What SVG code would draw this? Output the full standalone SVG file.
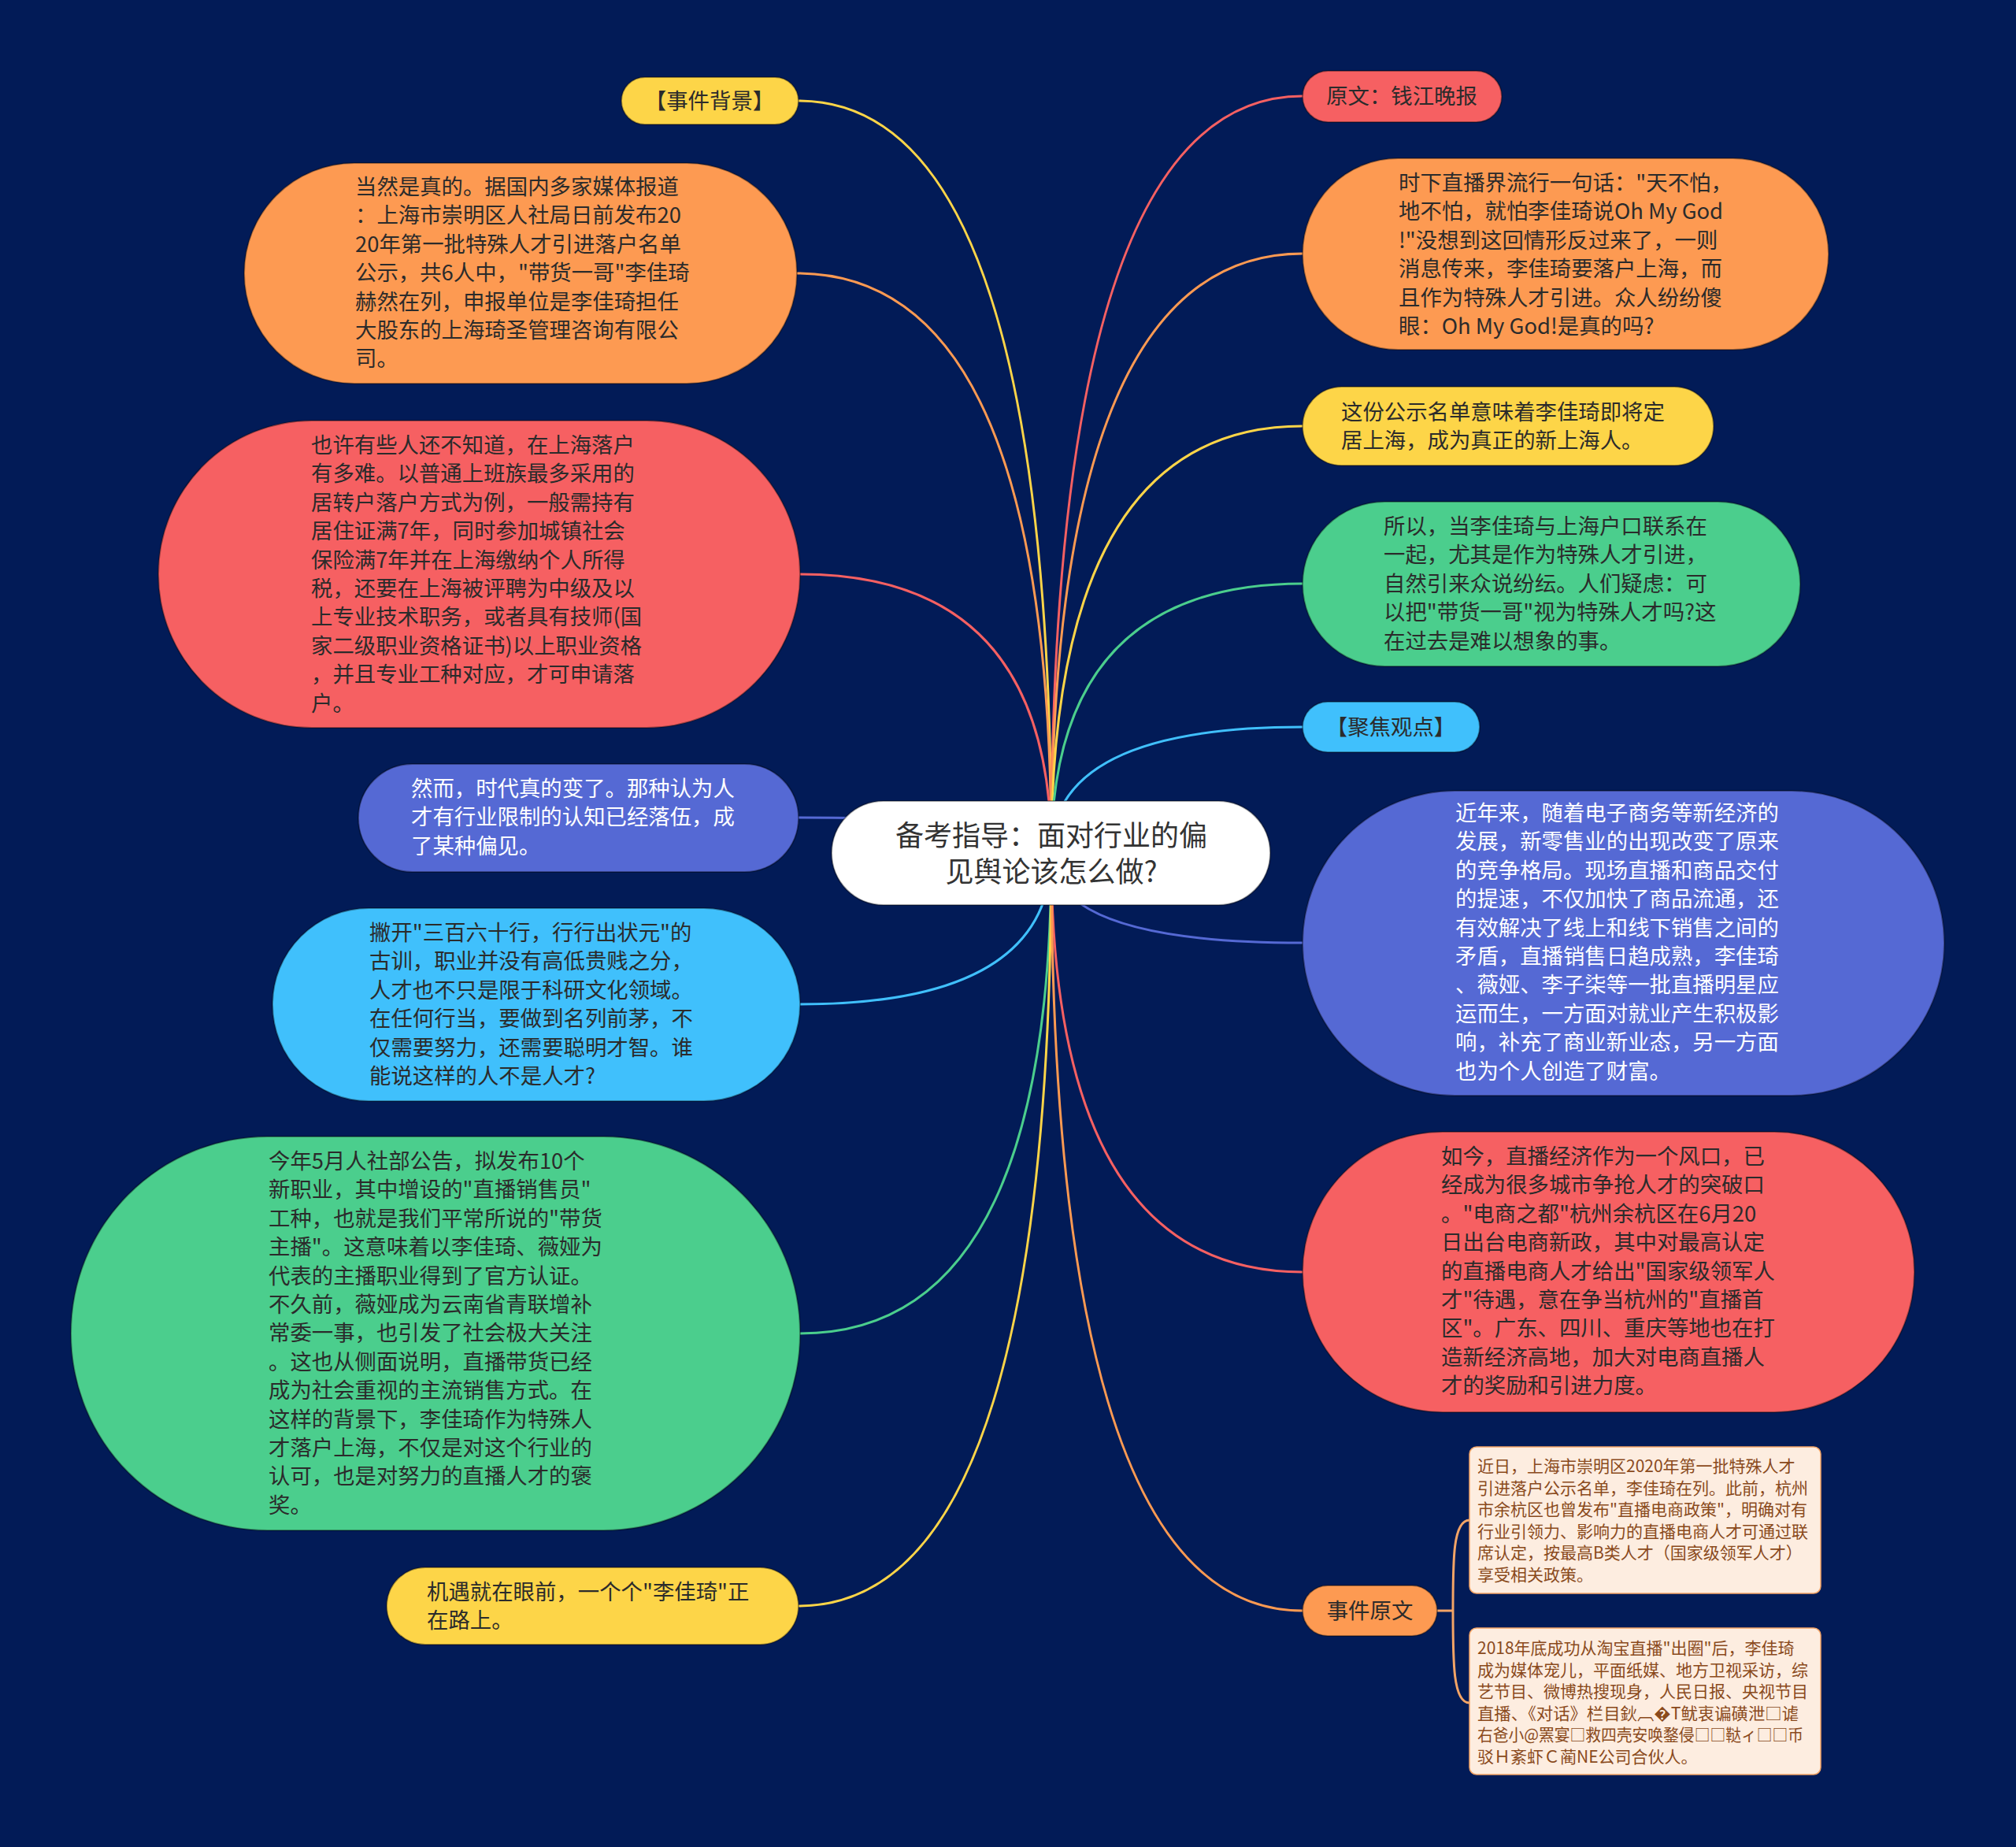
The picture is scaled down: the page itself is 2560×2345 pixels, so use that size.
<svg xmlns="http://www.w3.org/2000/svg" width="2560" height="2345" viewBox="0 0 2560 2345">
<style>
text{font-family:"Noto Sans CJK SC","Noto Sans",sans-serif;}
.t{font-size:27.4px;fill:#2b2b2b;}
.w{font-size:27.4px;fill:#ffffff;}
.s{font-size:21px;fill:#8a4a1c;}
.title{font-size:36px;fill:#333333;}
.node{stroke:rgba(0,0,0,0.35);stroke-width:2;}
.yel{fill:#fdd548;}
.ora{fill:#fd9a52;}
.red{fill:#f66062;}
.pur{fill:#5569d4;}
.cya{fill:#40c0fc;}
.gre{fill:#4bce8d;}
.box{fill:#fdede0;stroke:#f3a466;stroke-width:1.5;}
#connectors path{fill:none;stroke-width:3;}
</style>
<rect width="2560" height="2345" fill="#021b57"/>
<g id="connectors">
<path d="M1335 1083 Q1335 128 1014 128" stroke="#fdd548"/>
<path d="M1335 1083 Q1335 347 1012 347" stroke="#fd9a52"/>
<path d="M1335 1083 Q1335 729 1016 729" stroke="#f66062"/>
<path d="M1335 1083 Q1335 1038 1014 1038" stroke="#5569d4"/>
<path d="M1335 1083 Q1335 1275 1016 1275" stroke="#40c0fc"/>
<path d="M1335 1083 Q1335 1693 1016 1693" stroke="#4bce8d"/>
<path d="M1335 1083 Q1335 2039 1014 2039" stroke="#fdd548"/>
<path d="M1335 1083 Q1335 122 1654 122" stroke="#f66062"/>
<path d="M1335 1083 Q1335 322 1654 322" stroke="#fd9a52"/>
<path d="M1335 1083 Q1335 541 1654 541" stroke="#fdd548"/>
<path d="M1335 1083 Q1335 741 1654 741" stroke="#4bce8d"/>
<path d="M1335 1083 Q1335 923 1654 923" stroke="#40c0fc"/>
<path d="M1335 1083 Q1335 1197 1654 1197" stroke="#5569d4"/>
<path d="M1335 1083 Q1335 1615 1654 1615" stroke="#f66062"/>
<path d="M1335 1083 Q1335 2045 1654 2045" stroke="#fd9a52"/>
<path d="M1825 2045 H1845 M1845 2045 C1845 1980 1845 1930 1866 1930 M1845 2045 C1845 2110 1845 2162 1866 2162" stroke="#f3a466"/>
</g>
<g id="center">
<rect x="1056" y="1017" width="557" height="132" rx="66" fill="#ffffff" class="node"/>
<text class="title" text-anchor="middle"><tspan x="1335" y="1074">备考指导：面对行业的偏</tspan><tspan x="1335" y="1120">见舆论该怎么做?</tspan></text>
</g>
<g id="n-bg">
<rect x="789" y="98" width="225" height="60" rx="30" class="node yel"/>
<text class="t" x="901" y="138" text-anchor="middle">【事件背景】</text>
</g>
<g id="n-l2">
<rect x="310" y="207" width="702" height="280" rx="140" class="node ora"/>
<text class="t"><tspan x="451" y="247">当然是真的。据国内多家媒体报道</tspan><tspan x="451" dy="36.4">：上海市崇明区人社局日前发布20</tspan><tspan x="451" dy="36.4">20年第一批特殊人才引进落户名单</tspan><tspan x="451" dy="36.4">公示，共6人中，"带货一哥"李佳琦</tspan><tspan x="451" dy="36.4">赫然在列，申报单位是李佳琦担任</tspan><tspan x="451" dy="36.4">大股东的上海琦圣管理咨询有限公</tspan><tspan x="451" dy="36.4">司。</tspan></text>
</g>
<g id="n-l3">
<rect x="201" y="534" width="815" height="390" rx="195" class="node red"/>
<text class="t"><tspan x="395" y="575">也许有些人还不知道，在上海落户</tspan><tspan x="395" dy="36.4">有多难。以普通上班族最多采用的</tspan><tspan x="395" dy="36.4">居转户落户方式为例，一般需持有</tspan><tspan x="395" dy="36.4">居住证满7年，同时参加城镇社会</tspan><tspan x="395" dy="36.4">保险满7年并在上海缴纳个人所得</tspan><tspan x="395" dy="36.4">税，还要在上海被评聘为中级及以</tspan><tspan x="395" dy="36.4">上专业技术职务，或者具有技师(国</tspan><tspan x="395" dy="36.4">家二级职业资格证书)以上职业资格</tspan><tspan x="395" dy="36.4">，并且专业工种对应，才可申请落</tspan><tspan x="395" dy="36.4">户。</tspan></text>
</g>
<g id="n-l4">
<rect x="455" y="970" width="559" height="137" rx="68.5" class="node pur"/>
<text class="w"><tspan x="522" y="1011">然而，时代真的变了。那种认为人</tspan><tspan x="522" dy="36.4">才有行业限制的认知已经落伍，成</tspan><tspan x="522" dy="36.4">了某种偏见。</tspan></text>
</g>
<g id="n-l5">
<rect x="346" y="1153" width="670" height="245" rx="122.5" class="node cya"/>
<text class="t"><tspan x="469" y="1194">撇开"三百六十行，行行出状元"的</tspan><tspan x="469" dy="36.4">古训，职业并没有高低贵贱之分，</tspan><tspan x="469" dy="36.4">人才也不只是限于科研文化领域。</tspan><tspan x="469" dy="36.4">在任何行当，要做到名列前茅，不</tspan><tspan x="469" dy="36.4">仅需要努力，还需要聪明才智。谁</tspan><tspan x="469" dy="36.4">能说这样的人不是人才?</tspan></text>
</g>
<g id="n-l6">
<rect x="90" y="1443" width="926" height="500" rx="250" class="node gre"/>
<text class="t"><tspan x="341" y="1484">今年5月人社部公告，拟发布10个</tspan><tspan x="341" dy="36.4">新职业，其中增设的"直播销售员"</tspan><tspan x="341" dy="36.4">工种，也就是我们平常所说的"带货</tspan><tspan x="341" dy="36.4">主播"。这意味着以李佳琦、薇娅为</tspan><tspan x="341" dy="36.4">代表的主播职业得到了官方认证。</tspan><tspan x="341" dy="36.4">不久前，薇娅成为云南省青联增补</tspan><tspan x="341" dy="36.4">常委一事，也引发了社会极大关注</tspan><tspan x="341" dy="36.4">。这也从侧面说明，直播带货已经</tspan><tspan x="341" dy="36.4">成为社会重视的主流销售方式。在</tspan><tspan x="341" dy="36.4">这样的背景下，李佳琦作为特殊人</tspan><tspan x="341" dy="36.4">才落户上海，不仅是对这个行业的</tspan><tspan x="341" dy="36.4">认可，也是对努力的直播人才的褒</tspan><tspan x="341" dy="36.4">奖。</tspan></text>
</g>
<g id="n-l7">
<rect x="491" y="1990" width="523" height="98" rx="49" class="node yel"/>
<text class="t"><tspan x="542" y="2031">机遇就在眼前，一个个"李佳琦"正</tspan><tspan x="542" dy="36.4">在路上。</tspan></text>
</g>
<g id="n-r1">
<rect x="1654" y="90" width="253" height="65" rx="32.5" class="node red"/>
<text class="t" x="1780" y="132" text-anchor="middle">原文：钱江晚报</text>
</g>
<g id="n-r2">
<rect x="1654" y="201" width="668" height="243" rx="121.5" class="node ora"/>
<text class="t"><tspan x="1776" y="242">时下直播界流行一句话："天不怕，</tspan><tspan x="1776" dy="36.4">地不怕，就怕李佳琦说Oh My God</tspan><tspan x="1776" dy="36.4">!"没想到这回情形反过来了，一则</tspan><tspan x="1776" dy="36.4">消息传来，李佳琦要落户上海，而</tspan><tspan x="1776" dy="36.4">且作为特殊人才引进。众人纷纷傻</tspan><tspan x="1776" dy="36.4">眼：Oh My God!是真的吗?</tspan></text>
</g>
<g id="n-r3">
<rect x="1654" y="491" width="522" height="100" rx="50" class="node yel"/>
<text class="t"><tspan x="1703" y="533">这份公示名单意味着李佳琦即将定</tspan><tspan x="1703" dy="36.4">居上海，成为真正的新上海人。</tspan></text>
</g>
<g id="n-r4">
<rect x="1654" y="637" width="632" height="209" rx="104.5" class="node gre"/>
<text class="t"><tspan x="1757" y="678">所以，当李佳琦与上海户口联系在</tspan><tspan x="1757" dy="36.4">一起，尤其是作为特殊人才引进，</tspan><tspan x="1757" dy="36.4">自然引来众说纷纭。人们疑虑：可</tspan><tspan x="1757" dy="36.4">以把"带货一哥"视为特殊人才吗?这</tspan><tspan x="1757" dy="36.4">在过去是难以想象的事。</tspan></text>
</g>
<g id="n-r5">
<rect x="1654" y="891" width="225" height="64" rx="32" class="node cya"/>
<text class="t" x="1766" y="933" text-anchor="middle">【聚焦观点】</text>
</g>
<g id="n-r6">
<rect x="1654" y="1004" width="815" height="387" rx="193.5" class="node pur"/>
<text class="w"><tspan x="1848" y="1042">近年来，随着电子商务等新经济的</tspan><tspan x="1848" dy="36.4">发展，新零售业的出现改变了原来</tspan><tspan x="1848" dy="36.4">的竞争格局。现场直播和商品交付</tspan><tspan x="1848" dy="36.4">的提速，不仅加快了商品流通，还</tspan><tspan x="1848" dy="36.4">有效解决了线上和线下销售之间的</tspan><tspan x="1848" dy="36.4">矛盾，直播销售日趋成熟，李佳琦</tspan><tspan x="1848" dy="36.4">、薇娅、李子柒等一批直播明星应</tspan><tspan x="1848" dy="36.4">运而生，一方面对就业产生积极影</tspan><tspan x="1848" dy="36.4">响，补充了商业新业态，另一方面</tspan><tspan x="1848" dy="36.4">也为个人创造了财富。</tspan></text>
</g>
<g id="n-r7">
<rect x="1654" y="1437" width="777" height="356" rx="178" class="node red"/>
<text class="t"><tspan x="1830" y="1478">如今，直播经济作为一个风口，已</tspan><tspan x="1830" dy="36.4">经成为很多城市争抢人才的突破口</tspan><tspan x="1830" dy="36.4">。"电商之都"杭州余杭区在6月20</tspan><tspan x="1830" dy="36.4">日出台电商新政，其中对最高认定</tspan><tspan x="1830" dy="36.4">的直播电商人才给出"国家级领军人</tspan><tspan x="1830" dy="36.4">才"待遇，意在争当杭州的"直播首</tspan><tspan x="1830" dy="36.4">区"。广东、四川、重庆等地也在打</tspan><tspan x="1830" dy="36.4">造新经济高地，加大对电商直播人</tspan><tspan x="1830" dy="36.4">才的奖励和引进力度。</tspan></text>
</g>
<g id="n-r8">
<rect x="1654" y="2013" width="171" height="64" rx="32" class="node ora"/>
<text class="t" x="1739.5" y="2055" text-anchor="middle">事件原文</text>
</g>
<g id="n-r8a">
<rect x="1866" y="1837" width="446" height="186" rx="9" class="box"/>
<text class="s"><tspan x="1876" y="1869">近日，上海市崇明区2020年第一批特殊人才</tspan><tspan x="1876" dy="27.6">引进落户公示名单，李佳琦在列。此前，杭州</tspan><tspan x="1876" dy="27.6">市余杭区也曾发布"直播电商政策"，明确对有</tspan><tspan x="1876" dy="27.6">行业引领力、影响力的直播电商人才可通过联</tspan><tspan x="1876" dy="27.6">席认定，按最高B类人才（国家级领军人才）</tspan><tspan x="1876" dy="27.6">享受相关政策。</tspan></text>
</g>
<g id="n-r8b">
<rect x="1866" y="2067" width="446" height="186" rx="9" class="box"/>
<text class="s"><tspan x="1876" y="2100">2018年底成功从淘宝直播"出圈"后，李佳琦</tspan><tspan x="1876" dy="27.6">成为媒体宠儿，平面纸媒、地方卫视采访，综</tspan><tspan x="1876" dy="27.6">艺节目、微博热搜现身，人民日报、央视节目</tspan><tspan x="1876" dy="27.6" textLength="408" lengthAdjust="spacingAndGlyphs">直播、《对话》栏目鈥︹�T鱿衷谝磺泄□谑</tspan><tspan x="1876" dy="27.6" textLength="414" lengthAdjust="spacingAndGlyphs">右爸小@罴宴□救四壳安唤鍪侵□□鞑ィ□□币</tspan><tspan x="1876" dy="27.6">驳Ｈ紊虾Ｃ蔺NE公司合伙人。</tspan></text>
</g>
</svg>
